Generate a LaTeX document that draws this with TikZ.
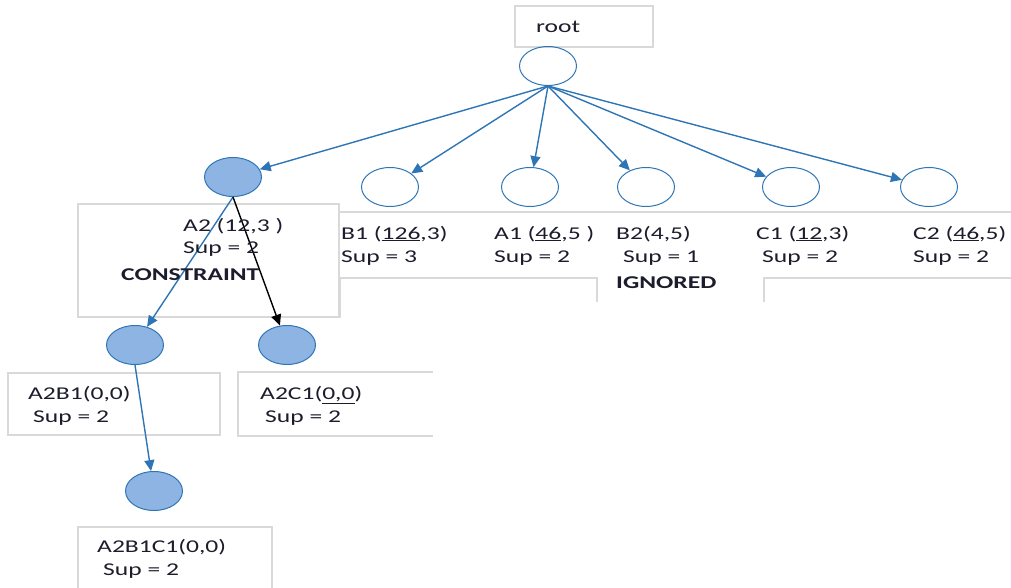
\documentclass[tikz,border=0pt]{standalone}
\usepackage{fontspec}
\setmainfont{Carlito}[FakeStretch=1.42]
\usetikzlibrary{arrows.meta,shapes.geometric}
\definecolor{linkblue}{HTML}{2E75B6}
\definecolor{nodefill}{HTML}{8EB4E3}
\definecolor{framegray}{HTML}{D9D9D9}
\definecolor{inkdark}{HTML}{1C1C2C}
\tikzset{
  item/.style={ellipse,draw=linkblue,line width=1pt,minimum width=57pt,minimum height=39pt,inner sep=0pt},
  kept/.style={item,fill=nodefill},
  link/.style={draw=linkblue,line width=1.4pt,-{Triangle[length=11pt,width=10pt]}},
  blacklink/.style={draw=black,line width=1.4pt,-{Triangle[length=11pt,width=10pt]}},
  frame/.style={draw=framegray,line width=1.3pt},
  txt/.style={anchor=base west,inner sep=0pt,text=inkdark,font=\fontsize{18}{22}\selectfont}
}
\begin{document}
\begin{tikzpicture}[x=1pt,y=-1pt]
\useasboundingbox (0,0) rectangle (1011,588);
% faint text frames
\draw[frame] (515,6) rectangle (653,47);
\draw[frame] (78,204) rectangle (339,317);
\draw[frame] (339,204) -- (339,212) -- (1011,212);
\draw[frame] (339,317) -- (340,317) -- (340,278) -- (597,278) -- (597,302);
\draw[frame] (764,302) -- (764,278) -- (1011,278);
\draw[frame] (8,373) rectangle (220,435);
\draw[frame] (433,372) -- (238,372) -- (238,436) -- (433,436);
\draw[frame] (272,588) -- (272,527) -- (78,527) -- (78,588);
% tree nodes
\node[item] (root) at (548,66) {};
\node[kept] (a2) at (233,177) {};
\node[item] (b1) at (390,187) {};
\node[item] (a1) at (530,187) {};
\node[item] (b2) at (646,187) {};
\node[item] (c1) at (791,187) {};
\node[item] (c2) at (929,187) {};
\node[kept] (a2b1) at (135,345) {};
\node[kept] (a2c1) at (287,345) {};
\node[kept] (a2b1c1) at (154,491) {};
% connectors
\draw[link] (root.south) -- (a2);
\draw[link] (root.south) -- (b1);
\draw[link] (root.south) -- (a1);
\draw[link] (root.south) -- (b2);
\draw[link] (root.south) -- (c1);
\draw[link] (root.south) -- (c2);
\draw[link] (a2.south) -- (a2b1);
\draw[blacklink] (a2.south) -- (a2c1);
\draw[link] (a2b1.south) -- (a2b1c1);
% labels
\node[txt] (roottxt) at (536,33) {root};
\node[txt] (a2name) at (183,231) {A2 (12,3 )};
\node[txt] (a2sup) at (183,253) {Sup = 2};
\node[txt,font=\fontsize{18}{22}\selectfont\bfseries] (a2note) at (121,280) {CONSTRAINT};
\node[txt] (b1name) at (341,239) {B1 (\underline{126},3)};
\node[txt] (b1sup) at (341,262) {Sup = 3};
\node[txt] (a1name) at (494,239) {A1 (\underline{46},5 )};
\node[txt] (a1sup) at (494,262) {Sup = 2};
\node[txt] (b2name) at (616,239) {B2(4,5)};
\node[txt] (b2sup) at (623,262) {Sup = 1};
\node[txt,font=\fontsize{18}{22}\selectfont\bfseries] (b2note) at (616,288) {IGNORED};
\node[txt] (c1name) at (756,239) {C1 (\underline{12},3)};
\node[txt] (c1sup) at (762,262) {Sup = 2};
\node[txt] (c2name) at (913,239) {C2 (\underline{46},5)};
\node[txt] (c2sup) at (913,262) {Sup = 2};
\node[txt] (a2b1name) at (28,399) {A2B1(0,0)};
\node[txt] (a2b1sup) at (33,422) {Sup = 2};
\node[txt] (a2c1name) at (260,399) {A2C1(\underline{0,0})};
\node[txt] (a2c1sup) at (265,422) {Sup = 2};
\node[txt] (a2b1c1name) at (97,552) {A2B1C1(0,0)};
\node[txt] (a2b1c1sup) at (103,575) {Sup = 2};
\end{tikzpicture}
\end{document}
